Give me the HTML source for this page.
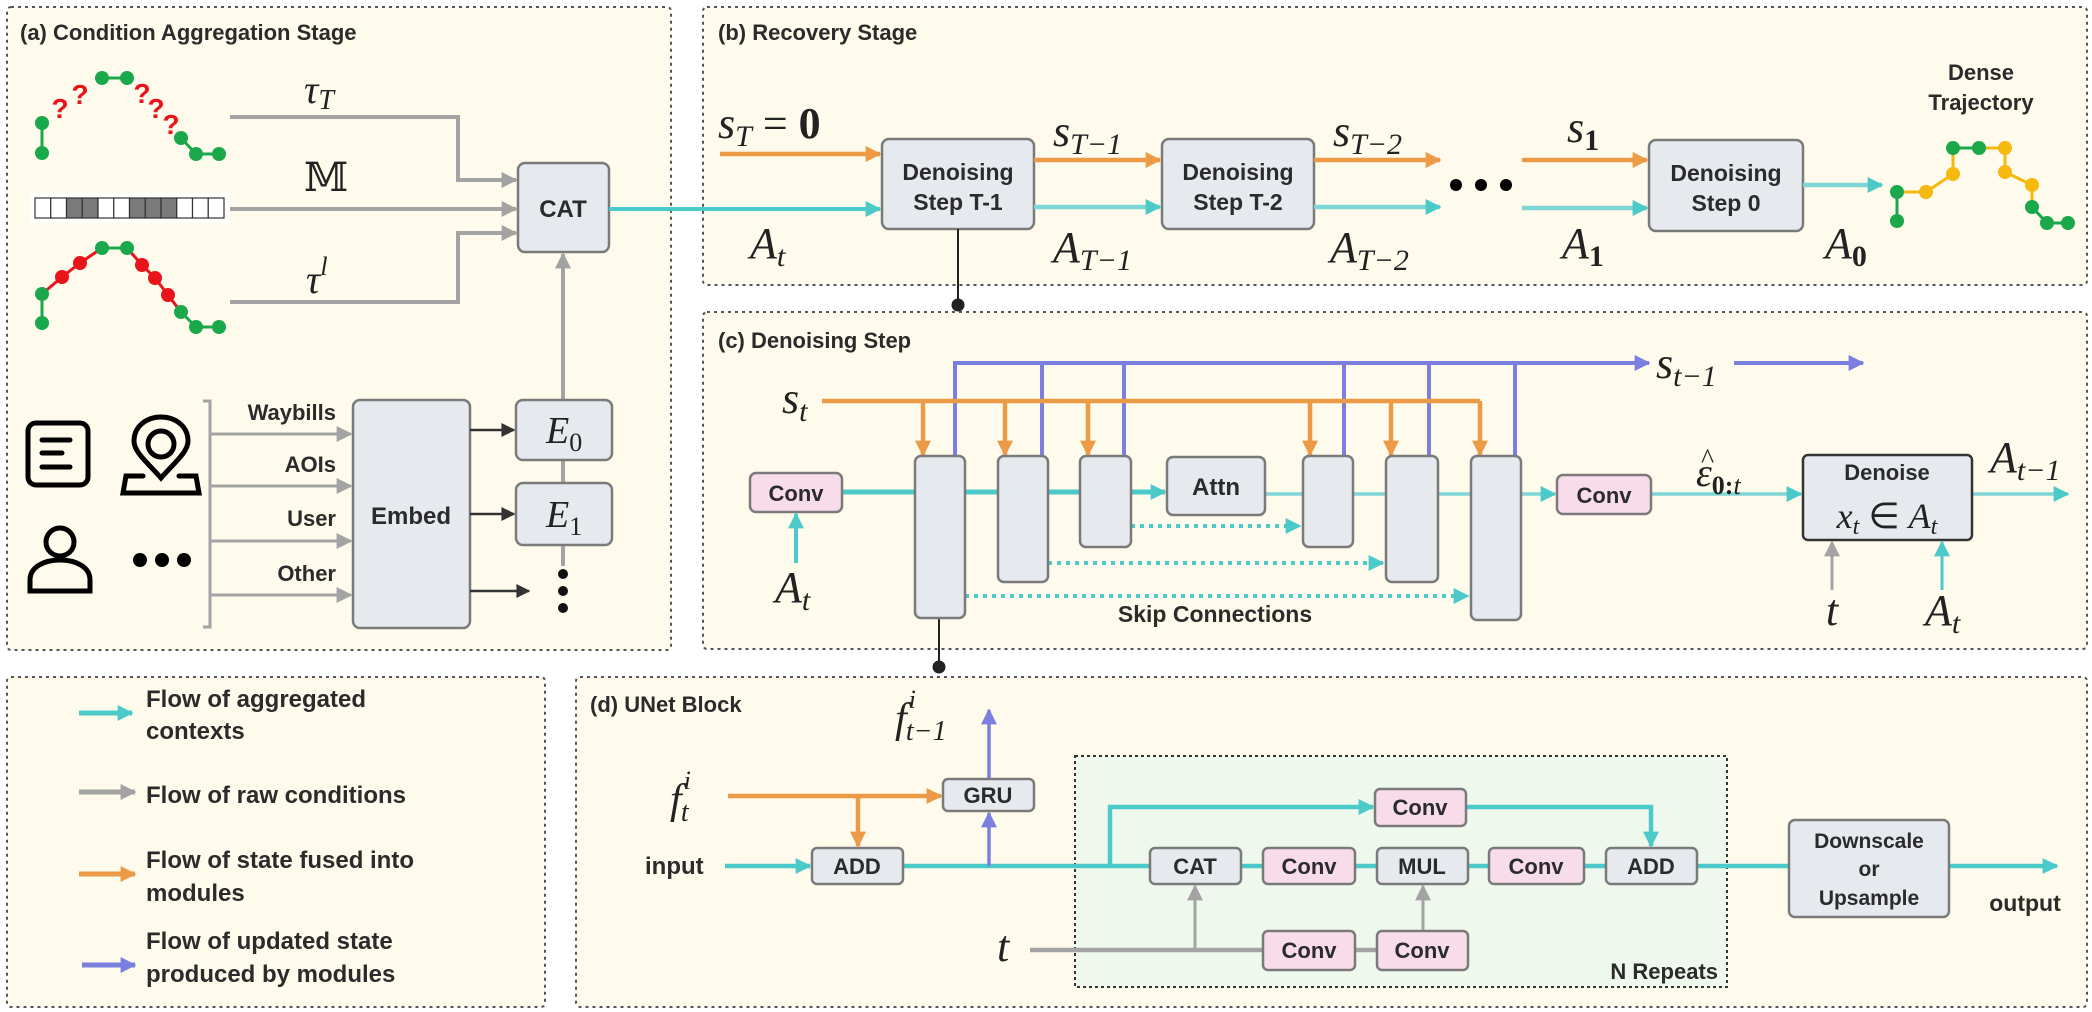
<!DOCTYPE html>
<html><head><meta charset="utf-8"><style>
html,body{margin:0;padding:0;background:#fff}
svg{display:block}
.t{font-family:"Liberation Sans",sans-serif;font-weight:bold;fill:#2b2b2b}
.m{font-family:"Liberation Serif",serif;font-style:italic;fill:#222}
.box{fill:#e6e9ed;stroke:#7a7a7a;stroke-width:2.5}
.pk{fill:#f9dcea;stroke:#7a7a7a;stroke-width:2.5}
.pan{fill:#fefbec;stroke:#555;stroke-width:2;stroke-dasharray:3 4}
</style></head><body>
<svg width="2092" height="1012" viewBox="0 0 2092 1012" xmlns="http://www.w3.org/2000/svg">
<defs>
<marker id="mt" viewBox="0 0 10 10" refX="9" refY="5" markerWidth="18" markerHeight="16" markerUnits="userSpaceOnUse" orient="auto"><path d="M0,0 L10,5 L0,10z" fill="#4cc9c9"/></marker>
<marker id="mo" viewBox="0 0 10 10" refX="9" refY="5" markerWidth="18" markerHeight="16" markerUnits="userSpaceOnUse" orient="auto"><path d="M0,0 L10,5 L0,10z" fill="#ec9a45"/></marker>
<marker id="mb" viewBox="0 0 10 10" refX="9" refY="5" markerWidth="18" markerHeight="16" markerUnits="userSpaceOnUse" orient="auto"><path d="M0,0 L10,5 L0,10z" fill="#7b7fe0"/></marker>
<marker id="mg" viewBox="0 0 10 10" refX="9" refY="5" markerWidth="18" markerHeight="16" markerUnits="userSpaceOnUse" orient="auto"><path d="M0,0 L10,5 L0,10z" fill="#a3a3a3"/></marker>
<marker id="mk" viewBox="0 0 10 10" refX="9" refY="5" markerWidth="16" markerHeight="14" markerUnits="userSpaceOnUse" orient="auto"><path d="M0,0 L10,5 L0,10z" fill="#333"/></marker>
</defs>

<rect class="pan" x="7" y="7" width="664" height="643" rx="4"/>
<rect class="pan" x="703" y="7" width="1384" height="278" rx="4"/>
<rect class="pan" x="703" y="312" width="1384" height="337" rx="4"/>
<rect class="pan" x="7" y="677" width="538" height="330" rx="4"/>
<rect class="pan" x="576" y="677" width="1511" height="330" rx="4"/>

<text class="t" x="20" y="40" font-size="22">(a) Condition Aggregation Stage</text>
<text class="t" x="718" y="40" font-size="22">(b) Recovery Stage</text>
<text class="t" x="718" y="348" font-size="22">(c) Denoising Step</text>
<text class="t" x="590" y="712" font-size="22">(d) UNet Block</text>

<g stroke="#1aa84a" stroke-width="3"><line x1="42" y1="123" x2="42" y2="153"/><line x1="102" y1="78" x2="127" y2="78"/><line x1="181" y1="138" x2="196" y2="154"/><line x1="196" y1="154" x2="219" y2="154"/></g>
<g fill="#1aa84a"><circle cx="42" cy="123" r="7"/><circle cx="42" cy="153" r="7"/><circle cx="102" cy="78" r="7"/><circle cx="127" cy="78" r="7"/><circle cx="181" cy="138" r="7"/><circle cx="196" cy="154" r="7"/><circle cx="219" cy="154" r="7"/></g>
<g font-family="Liberation Sans,sans-serif" font-weight="bold" font-size="28" fill="#e8141a" text-anchor="middle">
<text x="60" y="118">?</text><text x="80" y="104">?</text><text x="142" y="103">?</text><text x="156" y="118">?</text><text x="171" y="134">?</text></g>
<rect x="30" y="193" width="200" height="30" fill="#fff"/>
<g stroke="#333" stroke-width="1.2">
<rect x="35" y="198" width="15.75" height="20" fill="#fff"/><rect x="50.75" y="198" width="15.75" height="20" fill="#fff"/><rect x="66.5" y="198" width="15.75" height="20" fill="#7a7a7a"/><rect x="82.25" y="198" width="15.75" height="20" fill="#7a7a7a"/><rect x="98" y="198" width="15.75" height="20" fill="#fff"/><rect x="113.75" y="198" width="15.75" height="20" fill="#fff"/><rect x="129.5" y="198" width="15.75" height="20" fill="#7a7a7a"/><rect x="145.25" y="198" width="15.75" height="20" fill="#7a7a7a"/><rect x="161" y="198" width="15.75" height="20" fill="#7a7a7a"/><rect x="176.75" y="198" width="15.75" height="20" fill="#fff"/><rect x="192.5" y="198" width="15.75" height="20" fill="#fff"/><rect x="208.25" y="198" width="15.75" height="20" fill="#fff"/></g>
<polyline points="42,294 62,277 80,263 102,248" fill="none" stroke="#e8141a" stroke-width="3"/>
<polyline points="127,248 142,265 155,278 168,295 181,312" fill="none" stroke="#e8141a" stroke-width="3"/>
<g stroke="#1aa84a" stroke-width="3"><line x1="42" y1="294" x2="42" y2="323"/><line x1="102" y1="248" x2="127" y2="248"/><polyline points="181,312 196,327 219,327" fill="none"/></g>
<g fill="#1aa84a"><circle cx="42" cy="294" r="7"/><circle cx="42" cy="323" r="7"/><circle cx="102" cy="248" r="7"/><circle cx="127" cy="248" r="7"/><circle cx="181" cy="312" r="7"/><circle cx="196" cy="327" r="7"/><circle cx="219" cy="327" r="7"/></g>
<g fill="#e8141a"><circle cx="62" cy="277" r="7"/><circle cx="80" cy="263" r="7"/><circle cx="142" cy="265" r="7"/><circle cx="155" cy="278" r="7"/><circle cx="168" cy="295" r="7"/></g>

<g fill="none" stroke="#a3a3a3" stroke-width="4">
<polyline points="230,117 458,117 458,180 516,180" marker-end="url(#mg)"/>
<line x1="230" y1="209" x2="516" y2="209" marker-end="url(#mg)"/>
<polyline points="230,302 458,302 458,233 516,233" marker-end="url(#mg)"/>
<line x1="563" y1="400" x2="563" y2="254" marker-end="url(#mg)"/>
<line x1="563" y1="460" x2="563" y2="483"/>
<line x1="563" y1="545" x2="563" y2="566"/>
</g>
<text class="m" x="304" y="103" font-size="40">τ<tspan font-size="28" dy="6">T</tspan></text>
<text x="304" y="191" font-family="Liberation Serif,DejaVu Serif,serif" font-size="40" fill="#222">𝕄</text>
<text class="m" x="306" y="293" font-size="40">τ<tspan font-size="26" dy="-18">l</tspan></text>
<rect class="box" x="518" y="163" width="91" height="89" rx="7"/>
<text class="t" x="563" y="217" font-size="24" text-anchor="middle">CAT</text>

<rect class="box" x="516" y="400" width="96" height="60" rx="7"/>
<text class="m" x="546" y="443" font-size="38">E<tspan font-size="26" dy="8" font-style="normal">0</tspan></text>
<rect class="box" x="516" y="483" width="96" height="62" rx="7"/>
<text class="m" x="546" y="527" font-size="38">E<tspan font-size="26" dy="8" font-style="normal">1</tspan></text>
<g fill="#111"><circle cx="563" cy="574" r="5"/><circle cx="563" cy="591" r="5"/><circle cx="563" cy="608" r="5"/></g>

<rect class="box" x="353" y="400" width="117" height="228" rx="7"/>
<text class="t" x="411" y="524" font-size="24" text-anchor="middle">Embed</text>
<g stroke="#333" stroke-width="2.5" fill="none">
<line x1="470" y1="430" x2="514" y2="430" marker-end="url(#mk)"/>
<line x1="470" y1="514" x2="514" y2="514" marker-end="url(#mk)"/>
<line x1="470" y1="591" x2="529" y2="591" marker-end="url(#mk)"/>
</g>
<g stroke="#a3a3a3" stroke-width="3" fill="none">
<polyline points="203,401 210,401 210,627 203,627"/>
<line x1="210" y1="434" x2="351" y2="434" marker-end="url(#mg)"/>
<line x1="210" y1="486" x2="351" y2="486" marker-end="url(#mg)"/>
<line x1="210" y1="541" x2="351" y2="541" marker-end="url(#mg)"/>
<line x1="210" y1="595" x2="351" y2="595" marker-end="url(#mg)"/>
</g>
<text class="t" x="336" y="420" font-size="22" text-anchor="end">Waybills</text>
<text class="t" x="336" y="472" font-size="22" text-anchor="end">AOIs</text>
<text class="t" x="336" y="526" font-size="22" text-anchor="end">User</text>
<text class="t" x="336" y="581" font-size="22" text-anchor="end">Other</text>
<g fill="none" stroke="#000" stroke-width="5" stroke-linecap="round">
<rect x="28" y="423" width="60" height="62" rx="8"/>
<line x1="42" y1="440" x2="70" y2="440"/><line x1="42" y1="453" x2="62" y2="453"/><line x1="42" y1="467" x2="70" y2="467"/>
<circle cx="161" cy="444" r="13"/>
<path d="M161,478 C147,462 134,452 134,441 C134,426 147,417 161,417 C175,417 188,426 188,441 C188,452 175,462 161,478 Z"/>
<path d="M143,476 L126,476 L123,493 L199,493 L196,476 L179,476"/>
<circle cx="60" cy="542" r="14"/>
<path d="M30,591 L30,580 C30,567 44,560 60,560 C76,560 90,567 90,580 L90,591 Z"/>
</g>
<g fill="#000"><circle cx="140" cy="560" r="7"/><circle cx="162" cy="560" r="7"/><circle cx="184" cy="560" r="7"/></g>

<line x1="609" y1="209" x2="880" y2="209" stroke="#4cc9c9" stroke-width="4" marker-end="url(#mt)"/>
<text class="m" x="718" y="138" font-size="44">s<tspan font-size="30" dy="8">T</tspan><tspan dy="-8" font-style="normal"> = </tspan><tspan font-style="normal" font-weight="bold">0</tspan></text>
<line x1="720" y1="154" x2="880" y2="154" stroke="#ec9a45" stroke-width="4.5" marker-end="url(#mo)"/>
<text class="m" x="750" y="258" font-size="44">A<tspan font-size="30" dy="8">t</tspan></text>

<rect class="box" x="882" y="139" width="152" height="90" rx="7"/>
<text class="t" x="958" y="180" font-size="23" text-anchor="middle">Denoising</text>
<text class="t" x="958" y="210" font-size="23" text-anchor="middle">Step T-1</text>
<rect class="box" x="1162" y="139" width="152" height="90" rx="7"/>
<text class="t" x="1238" y="180" font-size="23" text-anchor="middle">Denoising</text>
<text class="t" x="1238" y="210" font-size="23" text-anchor="middle">Step T-2</text>
<rect class="box" x="1649" y="140" width="154" height="91" rx="7"/>
<text class="t" x="1726" y="181" font-size="23" text-anchor="middle">Denoising</text>
<text class="t" x="1726" y="211" font-size="23" text-anchor="middle">Step 0</text>

<g stroke-width="4.5" fill="none">
<line x1="1034" y1="160" x2="1160" y2="160" stroke="#ec9a45" marker-end="url(#mo)"/>
<line x1="1034" y1="207" x2="1160" y2="207" stroke="#7ed6d6" marker-end="url(#mt)"/>
<line x1="1314" y1="160" x2="1440" y2="160" stroke="#ec9a45" marker-end="url(#mo)"/>
<line x1="1314" y1="207" x2="1440" y2="207" stroke="#7ed6d6" marker-end="url(#mt)"/>
<line x1="1522" y1="160" x2="1647" y2="160" stroke="#ec9a45" marker-end="url(#mo)"/>
<line x1="1522" y1="208" x2="1647" y2="208" stroke="#7ed6d6" marker-end="url(#mt)"/>
<line x1="1803" y1="185" x2="1882" y2="185" stroke="#7ed6d6" marker-end="url(#mt)"/>
</g>
<g fill="#000"><circle cx="1456" cy="185" r="6"/><circle cx="1481" cy="185" r="6"/><circle cx="1506" cy="185" r="6"/></g>
<text class="m" x="1053" y="146" font-size="44">s<tspan font-size="30" dy="8">T−1</tspan></text>
<text class="m" x="1053" y="262" font-size="44">A<tspan font-size="30" dy="8">T−1</tspan></text>
<text class="m" x="1333" y="146" font-size="44">s<tspan font-size="30" dy="8">T−2</tspan></text>
<text class="m" x="1330" y="262" font-size="44">A<tspan font-size="30" dy="8">T−2</tspan></text>
<text class="m" x="1567" y="142" font-size="44">s<tspan font-size="30" dy="8" font-style="normal" font-weight="bold">1</tspan></text>
<text class="m" x="1562" y="258" font-size="44">A<tspan font-size="30" dy="8" font-style="normal" font-weight="bold">1</tspan></text>
<text class="m" x="1825" y="258" font-size="44">A<tspan font-size="30" dy="8" font-style="normal" font-weight="bold">0</tspan></text>
<text class="t" x="1981" y="80" font-size="22" text-anchor="middle">Dense</text>
<text class="t" x="1981" y="110" font-size="22" text-anchor="middle">Trajectory</text>
<g stroke-width="3" fill="none">
<line x1="1897" y1="221" x2="1897" y2="192" stroke="#1aa84a"/>
<polyline points="1897,192 1926,192 1953,174 1953,148" stroke="#f5b90f"/>
<line x1="1953" y1="148" x2="1979" y2="148" stroke="#1aa84a"/>
<polyline points="1979,148 2005,148 2005,172 2032,185 2032,207" stroke="#f5b90f"/>
<polyline points="2032,207 2047,223 2068,223" stroke="#1aa84a"/>
</g>
<g fill="#1aa84a"><circle cx="1897" cy="192" r="7"/><circle cx="1897" cy="221" r="7"/><circle cx="1953" cy="148" r="7"/><circle cx="1979" cy="148" r="7"/><circle cx="2032" cy="207" r="7"/><circle cx="2047" cy="223" r="7"/><circle cx="2068" cy="223" r="7"/></g>
<g fill="#f5b90f"><circle cx="1926" cy="192" r="7"/><circle cx="1953" cy="174" r="7"/><circle cx="2005" cy="148" r="7"/><circle cx="2005" cy="172" r="7"/><circle cx="2032" cy="185" r="7"/></g>

<line x1="958" y1="229" x2="958" y2="305" stroke="#222" stroke-width="2"/><circle cx="958" cy="305" r="6.5" fill="#222"/>
<line x1="939" y1="618" x2="939" y2="667" stroke="#222" stroke-width="2"/><circle cx="939" cy="667" r="6.5" fill="#222"/>

<g stroke="#7b7fe0" stroke-width="4" fill="none">
<polyline points="955,458 955,363 1649,363" marker-end="url(#mb)"/>
<line x1="1042" y1="363" x2="1042" y2="458"/><line x1="1124" y1="363" x2="1124" y2="458"/>
<line x1="1344" y1="363" x2="1344" y2="458"/><line x1="1429" y1="363" x2="1429" y2="458"/><line x1="1515" y1="363" x2="1515" y2="458"/>
<line x1="1734" y1="363" x2="1863" y2="363" marker-end="url(#mb)"/>
</g>
<text class="m" x="1656" y="378" font-size="44">s<tspan font-size="30" dy="8">t−1</tspan></text>
<text class="m" x="782" y="413" font-size="44">s<tspan font-size="30" dy="8">t</tspan></text>
<g stroke="#ec9a45" stroke-width="4.5" fill="none">
<line x1="822" y1="401" x2="1480" y2="401"/>
<line x1="923" y1="401" x2="923" y2="455" marker-end="url(#mo)"/>
<line x1="1005" y1="401" x2="1005" y2="455" marker-end="url(#mo)"/>
<line x1="1088" y1="401" x2="1088" y2="455" marker-end="url(#mo)"/>
<line x1="1310" y1="401" x2="1310" y2="455" marker-end="url(#mo)"/>
<line x1="1391" y1="401" x2="1391" y2="455" marker-end="url(#mo)"/>
<line x1="1480" y1="401" x2="1480" y2="455" marker-end="url(#mo)"/>
</g>
<line x1="842" y1="492" x2="1165" y2="492" stroke="#4cc9c9" stroke-width="5" marker-end="url(#mt)"/>
<line x1="1265" y1="494" x2="1555" y2="494" stroke="#7ed6d6" stroke-width="3.5" marker-end="url(#mt)"/>
<line x1="1651" y1="494" x2="1801" y2="494" stroke="#7ed6d6" stroke-width="3.5" marker-end="url(#mt)"/>
<line x1="1972" y1="494" x2="2068" y2="494" stroke="#7ed6d6" stroke-width="3.5" marker-end="url(#mt)"/>
<line x1="796" y1="563" x2="796" y2="514" stroke="#4cc9c9" stroke-width="4" marker-end="url(#mt)"/>
<g stroke="#4cc9c9" stroke-width="4" stroke-dasharray="4 5" fill="none">
<line x1="1131" y1="526" x2="1300" y2="526" marker-end="url(#mt)"/>
<line x1="1048" y1="563" x2="1383" y2="563" marker-end="url(#mt)"/>
<line x1="965" y1="596" x2="1468" y2="596" marker-end="url(#mt)"/>
</g>
<rect class="pk" x="750" y="473" width="92" height="39" rx="6"/>
<text class="t" x="796" y="501" font-size="22" text-anchor="middle">Conv</text>
<rect class="box" x="915" y="456" width="50" height="162" rx="6"/>
<rect class="box" x="998" y="456" width="50" height="126" rx="6"/>
<rect class="box" x="1080" y="456" width="51" height="91" rx="6"/>
<rect class="box" x="1167" y="457" width="98" height="58" rx="6"/>
<text class="t" x="1216" y="495" font-size="24" text-anchor="middle">Attn</text>
<rect class="box" x="1303" y="456" width="50" height="91" rx="6"/>
<rect class="box" x="1386" y="456" width="52" height="126" rx="6"/>
<rect class="box" x="1471" y="456" width="50" height="164" rx="6"/>
<rect class="pk" x="1557" y="475" width="94" height="39" rx="6"/>
<text class="t" x="1604" y="503" font-size="22" text-anchor="middle">Conv</text>
<text class="t" x="1215" y="622" font-size="23" text-anchor="middle">Skip Connections</text>
<text class="m" x="775" y="602" font-size="44">A<tspan font-size="30" dy="8">t</tspan></text>
<text class="m" x="1696" y="486" font-size="40">ε<tspan font-size="26" dy="8" font-style="normal" font-weight="bold">0:</tspan><tspan font-size="26">t</tspan></text>
<text x="1701" y="468" font-family="Liberation Serif,serif" font-size="28" fill="#222">^</text>
<rect x="1803" y="455" width="169" height="85" rx="5" fill="#e6e9ed" stroke="#333" stroke-width="2.5"/>
<text class="t" x="1887" y="480" font-size="22" text-anchor="middle">Denoise</text>
<text class="m" x="1887" y="528" font-size="36" text-anchor="middle">x<tspan font-size="24" dy="6">t</tspan><tspan dy="-6" font-style="normal"> ∈ </tspan>A<tspan font-size="24" dy="6">t</tspan></text>
<text class="m" x="1990" y="472" font-size="44">A<tspan font-size="30" dy="8">t−1</tspan></text>
<line x1="1832" y1="590" x2="1832" y2="542" stroke="#a3a3a3" stroke-width="3" marker-end="url(#mg)"/>
<line x1="1942" y1="590" x2="1942" y2="542" stroke="#4cc9c9" stroke-width="3" marker-end="url(#mt)"/>
<text class="m" x="1832" y="625" font-size="44" text-anchor="middle">t</text>
<text class="m" x="1925" y="625" font-size="44">A<tspan font-size="30" dy="8">t</tspan></text>

<rect x="1075" y="756" width="652" height="231" fill="#eef8ec" stroke="#333" stroke-width="2" stroke-dasharray="3 3"/>
<text class="t" x="1718" y="979" font-size="22" text-anchor="end">N Repeats</text>
<text class="m" x="895" y="732" font-size="42">f<tspan font-size="26" dx="2" dy="-24">i</tspan><tspan font-size="28" dx="-10" dy="32">t−1</tspan></text>
<text class="m" x="670" y="813" font-size="42">f<tspan font-size="26" dx="2" dy="-24">i</tspan><tspan font-size="28" dx="-10" dy="32">t</tspan></text>
<text class="t" x="645" y="874" font-size="24">input</text>
<g stroke-width="4.5" fill="none">
<line x1="728" y1="796" x2="941" y2="796" stroke="#ec9a45" marker-end="url(#mo)"/>
<line x1="858" y1="796" x2="858" y2="846" stroke="#ec9a45" marker-end="url(#mo)"/>
<line x1="725" y1="866" x2="810" y2="866" stroke="#4cc9c9" marker-end="url(#mt)"/>
<line x1="903" y1="866" x2="1150" y2="866" stroke="#4cc9c9"/>
<line x1="989" y1="866" x2="989" y2="813" stroke="#7b7fe0" stroke-width="3.5" marker-end="url(#mb)"/>
<line x1="989" y1="779" x2="989" y2="710" stroke="#7b7fe0" stroke-width="3.5" marker-end="url(#mb)"/>
<polyline points="1110,866 1110,807 1373,807" stroke="#4cc9c9" marker-end="url(#mt)"/>
<polyline points="1466,807 1651,807 1651,846" stroke="#4cc9c9" marker-end="url(#mt)"/>
<line x1="1241" y1="866" x2="1606" y2="866" stroke="#4cc9c9"/>
<line x1="1697" y1="866" x2="1789" y2="866" stroke="#4cc9c9"/>
<line x1="1949" y1="866" x2="2057" y2="866" stroke="#4cc9c9" marker-end="url(#mt)"/>
<line x1="1030" y1="950" x2="1263" y2="950" stroke="#a3a3a3"/>
<line x1="1355" y1="950" x2="1377" y2="950" stroke="#a3a3a3"/>
<line x1="1195" y1="950" x2="1195" y2="886" stroke="#a3a3a3" stroke-width="3" marker-end="url(#mg)"/>
<line x1="1423" y1="931" x2="1423" y2="886" stroke="#a3a3a3" stroke-width="3" marker-end="url(#mg)"/>
</g>
<rect class="box" x="943" y="779" width="91" height="32" rx="5"/>
<text class="t" x="988" y="803" font-size="22" text-anchor="middle">GRU</text>
<rect class="box" x="812" y="848" width="91" height="36" rx="5"/>
<text class="t" x="857" y="874" font-size="22" text-anchor="middle">ADD</text>
<rect class="box" x="1150" y="848" width="91" height="36" rx="5"/>
<text class="t" x="1195" y="874" font-size="22" text-anchor="middle">CAT</text>
<rect class="pk" x="1263" y="848" width="92" height="36" rx="5"/>
<text class="t" x="1309" y="874" font-size="22" text-anchor="middle">Conv</text>
<rect class="box" x="1377" y="848" width="91" height="36" rx="5"/>
<text class="t" x="1422" y="874" font-size="22" text-anchor="middle">MUL</text>
<rect class="pk" x="1489" y="848" width="95" height="36" rx="5"/>
<text class="t" x="1536" y="874" font-size="22" text-anchor="middle">Conv</text>
<rect class="box" x="1606" y="848" width="91" height="36" rx="5"/>
<text class="t" x="1651" y="874" font-size="22" text-anchor="middle">ADD</text>
<rect class="pk" x="1375" y="789" width="91" height="37" rx="5"/>
<text class="t" x="1420" y="815" font-size="22" text-anchor="middle">Conv</text>
<rect class="pk" x="1263" y="931" width="92" height="39" rx="5"/>
<text class="t" x="1309" y="958" font-size="22" text-anchor="middle">Conv</text>
<rect class="pk" x="1377" y="931" width="91" height="39" rx="5"/>
<text class="t" x="1422" y="958" font-size="22" text-anchor="middle">Conv</text>
<rect class="box" x="1789" y="820" width="160" height="97" rx="6"/>
<text class="t" x="1869" y="848" font-size="21" text-anchor="middle">Downscale</text>
<text class="t" x="1869" y="876" font-size="21" text-anchor="middle">or</text>
<text class="t" x="1869" y="905" font-size="21" text-anchor="middle">Upsample</text>
<text class="t" x="2025" y="911" font-size="23" text-anchor="middle">output</text>
<text class="m" x="997" y="961" font-size="44">t</text>

<g stroke-width="5">
<line x1="79" y1="713" x2="132" y2="713" stroke="#4cc9c9" marker-end="url(#mt)"/>
<line x1="79" y1="792" x2="135" y2="792" stroke="#a3a3a3" marker-end="url(#mg)"/>
<line x1="79" y1="874" x2="135" y2="874" stroke="#ec9a45" marker-end="url(#mo)"/>
<line x1="82" y1="965" x2="135" y2="965" stroke="#7b7fe0" marker-end="url(#mb)"/>
</g>
<g class="t" font-size="24">
<text x="146" y="707">Flow of aggregated</text><text x="146" y="739">contexts</text>
<text x="146" y="803">Flow of raw conditions</text>
<text x="146" y="868">Flow of state fused into</text><text x="146" y="901">modules</text>
<text x="146" y="949">Flow of updated state</text><text x="146" y="982">produced by modules</text>
</g>
</svg>
</body></html>
